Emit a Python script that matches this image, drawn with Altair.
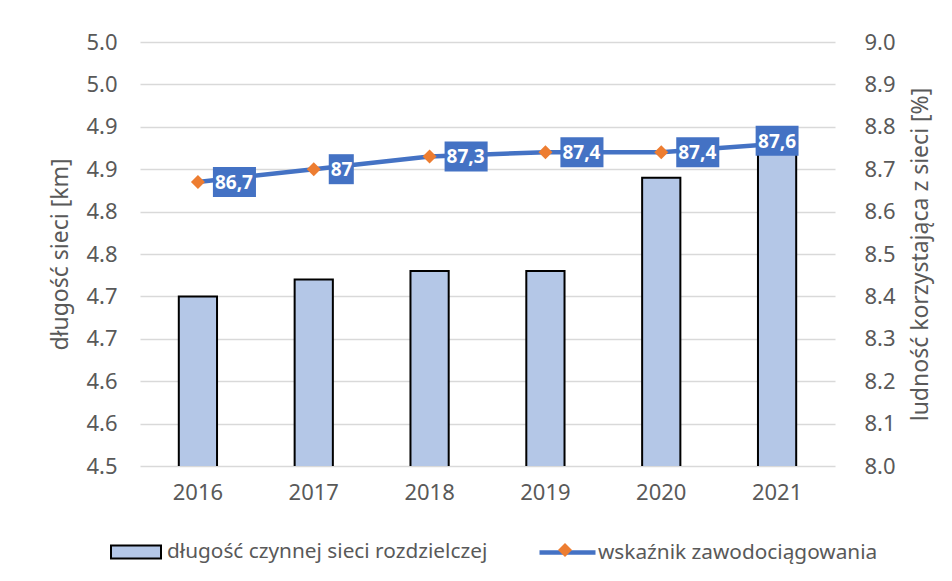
import altair as alt
import pandas as pd

years = ["2016", "2017", "2018", "2019", "2020", "2021"]
network_km = [4.70, 4.72, 4.73, 4.73, 4.84, 4.88]
coverage_pct = [86.7, 87.0, 87.3, 87.4, 87.4, 87.6]
coverage_labels = ["86,7", "87", "87,3", "87,4", "87,4", "87,6"]
left_ticks = [4.5, 4.55, 4.6, 4.65, 4.7, 4.75, 4.8, 4.85, 4.9, 4.95, 5.0]
right_ticks = [80, 81, 82, 83, 84, 85, 86, 87, 88, 89, 90]

bar_name = "długość czynnej sieci rozdzielczej"
line_name = "wskaźnik zawodociągowania"

df = pd.DataFrame({
    "year": years,
    "km": network_km,
    "pct": coverage_pct,
    "label": coverage_labels,
    "bar_series": [bar_name] * len(years),
    "line_series": [line_name] * len(years),
    "marker": ["marker"] * len(years),
})

FONT = "Noto Sans"
GREY = "#595959"
BLUE = "#4472C4"
ORANGE = "#ED7D31"
W, H = 695, 424
LBL = 22
LEG = 20.8
TTL = 23

xscale = alt.Scale(paddingInner=0.67, paddingOuter=0.335)
xenc = alt.X("year:N", scale=xscale, sort=years,
             axis=alt.Axis(title=None, labelAngle=0, ticks=False, tickSize=0, domain=False,
                           labelPadding=16, labelFontSize=LBL, labelFont=FONT,
                           labelColor=GREY, grid=False))

bars = alt.Chart(df).mark_bar(stroke="black", strokeWidth=2, clip=True).encode(
    x=xenc,
    y=alt.Y("km:Q", scale=alt.Scale(domain=[4.5, 5.0], zero=False, nice=False),
            axis=alt.Axis(orient="left", values=left_ticks,
                          labelExpr="format(round(datum.value*20)/20 + 0.0001, '.1f')",
                          title="długość sieci [km]", titleFont=FONT, titleFontSize=TTL,
                          titleFontWeight="normal", titleColor=GREY,
                          titleX=-80, titleY=H / 2, titleAngle=270,
                          titleAlign="center", titleBaseline="middle",
                          labelFont=FONT, labelFontSize=LBL, labelColor=GREY,
                          labelPadding=23, ticks=False, tickSize=0, domain=False,
                          grid=True, gridColor="#D9D9D9", gridWidth=1.3)),
    fill=alt.Fill("bar_series:N", scale=alt.Scale(range=["#B4C7E7"]),
                  legend=alt.Legend(title=None, orient="none", legendX=-30, legendY=484,
                                    symbolType="M-1,-0.26H1V0.26H-1Z", symbolSize=2500,
                                    symbolStrokeColor="black", symbolStrokeWidth=2,
                                    labelFont=FONT, labelFontSize=LEG, labelColor=GREY,
                                    labelOffset=5, labelLimit=600, padding=0)),
)

yR = alt.Y("pct:Q", scale=alt.Scale(domain=[80, 90], zero=False, nice=False),
           axis=alt.Axis(orient="right", values=right_ticks,
                         labelExpr="format(datum.value/10, '.1f')",
                         title="ludność korzystająca z sieci [%]", titleFont=FONT,
                         titleFontSize=TTL, titleFontWeight="normal", titleColor=GREY,
                         titleX=85, titleY=H / 2, titleAngle=270,
                         titleAlign="center", titleBaseline="middle",
                         labelFont=FONT, labelFontSize=LBL, labelColor=GREY,
                         labelPadding=29, ticks=False, tickSize=0, domain=False, grid=False))

line = alt.Chart(df).mark_line(strokeWidth=4.5, strokeCap="round", strokeJoin="round").encode(
    x=alt.X("year:N", sort=years),
    y=yR,
    stroke=alt.Stroke("line_series:N", scale=alt.Scale(range=[BLUE]),
                      legend=alt.Legend(title=None, orient="none", legendX=397, legendY=480,
                                        symbolType="stroke", symbolSize=3136,
                                        symbolStrokeWidth=4.5, symbolStrokeColor=BLUE,
                                        labelFont=FONT, labelFontSize=LEG, labelColor=GREY,
                                        labelOffset=0, labelLimit=600, padding=0)),
)

points = alt.Chart(df).mark_point(filled=True, size=196, opacity=1, color=ORANGE).encode(
    x=alt.X("year:N", sort=years),
    y=yR,
    shape=alt.Shape("marker:N", scale=alt.Scale(range=["diamond"]),
                    legend=alt.Legend(title=None, orient="none", legendX=418, legendY=501,
                                      symbolSize=196, symbolFillColor=ORANGE,
                                      symbolStrokeColor=ORANGE, symbolStrokeWidth=0,
                                      labelExpr="''", padding=0)),
)

last_year = years[-1]
boxes = alt.Chart(df).transform_calculate(
    kind=f"datum.year == '{last_year}' ? 'c' : (length(datum.label) > 2 ? 'w' : 'n')"
).mark_point(filled=True, size=900, opacity=1, color=BLUE, strokeWidth=0).encode(
    x=alt.X("year:N", sort=years),
    y=yR,
    shape=alt.Shape("kind:N", scale=alt.Scale(
        domain=["w", "n", "c"],
        range=["M1,-1H3.87V1H1Z", "M1,-1H2.67V1H1Z", "M-1.43,-1.2H1.43V0.8H-1.43Z"]),
        legend=None),
)

text_right = alt.Chart(df).transform_filter(
    alt.datum.year != last_year
).mark_text(align="left", baseline="middle", dx=17, dy=1, font=FONT, fontSize=19,
            fontWeight="bold", color="white").encode(
    x=alt.X("year:N", sort=years), y=yR, text="label:N")

text_center = alt.Chart(df).transform_filter(
    alt.datum.year == last_year
).mark_text(align="center", baseline="middle", dx=0, dy=-2, font=FONT, fontSize=19,
            fontWeight="bold", color="white").encode(
    x=alt.X("year:N", sort=years), y=yR, text="label:N")

right_layer = alt.layer(line, points, boxes, text_right, text_center).resolve_scale(
    shape="independent")

chart = alt.layer(bars, right_layer).resolve_scale(
    y="independent", shape="independent"
).properties(
    width=W, height=H,
    autosize=alt.AutoSizeParams(type="none"),
    padding={"left": 132, "top": 34, "right": 109, "bottom": 107},
).configure_view(stroke=None).configure_legend(padding=0)

chart.save("out.html", embed_options={"renderer": "svg", "actions": False})
